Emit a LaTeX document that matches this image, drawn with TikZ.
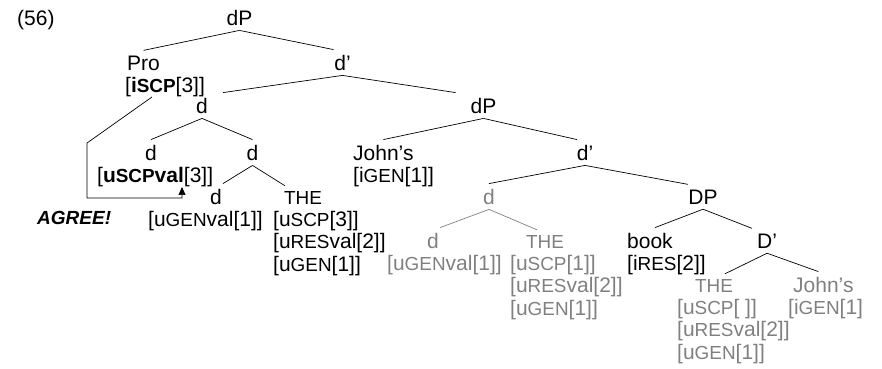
\documentclass[tikz,border=0pt]{standalone}
\usepackage{fontspec}
\setmainfont{Liberation Sans}
\usetikzlibrary{arrows.meta}
\definecolor{mygray}{RGB}{128,128,128}
\newcommand{\featsc}[1]{{\fontsize{18.9}{22.5}\selectfont #1}}
\tikzset{
  cat/.style={anchor=base, inner xsep=0pt, inner ysep=5pt,
    font=\fontsize{21}{22.5}\selectfont},
  feat/.style={anchor=north west, inner sep=0pt, align=left,
    font=\fontsize{21}{22.5}\selectfont},
  branch/.style={line width=0.7pt, color=black},
  graybranch/.style={line width=0.7pt, color=mygray},
  agreearrow/.style={-{Triangle[width=7pt,length=8pt]}, line width=0.7pt}
}

\begin{document}
\begin{tikzpicture}[x=1pt, y=-1pt]
  \useasboundingbox (0,0) rectangle (882,368);

  % Nodes
  \node[cat, anchor=base west] (num) at (17,25) {(56)};
  \node[cat] (dPtop) at (239.5,25) {dP};
  \node[cat, anchor=base west] (pro) at (127,70) {Pro};
  \node[feat] (iscp) at (125,77) {[\textbf{i\featsc{SCP}}[3]]};
  \node[cat] (dbar1) at (342.5,70) {d’};
  \node[cat] (d2) at (202,113) {d};
  \node[cat] (dPmid) at (483.5,113) {dP};
  \node[cat] (d3a) at (151,160) {d};
  \node[feat] (uscpval) at (97,167) {[\textbf{u\featsc{SCP}val}[3]]};
  \node[cat] (d3b) at (252.5,160) {d};
  \node[cat, anchor=base west] (johnsA) at (353,160) {John’s};
  \node[feat] (igenA) at (353,167) {[i\featsc{GEN}[1]]};
  \node[cat] (dbar2) at (585,160) {d’};
  \node[cat] (d4a) at (216,204) {d};
  \node[feat] (ugenvalA) at (148,211) {[u\featsc{GEN}val[1]]};
  \node[cat] (theA) at (303,204) {\featsc{THE}};
  \node[feat] (theAfeat) at (273,211) {[u\featsc{SCP}[3]]\\ {[}u\featsc{RES}val[2]]\\ {[}u\featsc{GEN}[1]]};
  \node[cat, anchor=base west, font=\fontsize{19}{22.5}\selectfont\bfseries\itshape] (agree) at (37,224) {AGREE!};

  \node[cat, mygray] (d4g) at (489,204) {d};
  \node[cat] (DP) at (703,204) {DP};
  \node[cat, mygray] (d5g) at (433,248) {d};
  \node[feat, mygray] (ugenvalB) at (387,255) {[u\featsc{GEN}val[1]]};
  \node[cat, mygray] (theB) at (545,248) {\featsc{THE}};
  \node[feat, mygray] (theBfeat) at (510,255) {[u\featsc{SCP}[1]]\\ {[}u\featsc{RES}val[2]]\\ {[}u\featsc{GEN}[1]]};
  \node[cat, anchor=base west] (book) at (627,248) {book};
  \node[feat] (ires) at (627,255) {[i\featsc{RES}[2]]};
  \node[cat] (Dbar) at (767,248) {D’};
  \node[cat, mygray] (theC) at (714,292) {\featsc{THE}};
  \node[feat, mygray] (theCfeat) at (677,299) {[u\featsc{SCP}[ ]]\\ {[}u\featsc{RES}val[2]]\\ {[}u\featsc{GEN}[1]]};
  \node[cat, anchor=base west, mygray] (johnsB) at (793,292) {John’s};
  \node[feat, mygray] (igenB) at (788,299) {[i\featsc{GEN}[1]};

  % Branches
  \draw[branch] (dPtop.south) -- (pro.north);
  \draw[branch] (dPtop.south) -- ([xshift=-9pt]dbar1.north);
  \draw[branch] (dbar1.south) -- ([xshift=21pt]d2.north);
  \draw[branch] (dbar1.south) -- ([xshift=-28pt]dPmid.north);
  \draw[branch] (d2.south) -- (d3a.north);
  \draw[branch] (d2.south) -- (d3b.north);
  \draw[branch] (dPmid.south) -- (johnsA.north);
  \draw[branch] (dPmid.south) -- ([xshift=-8pt]dbar2.north);
  \draw[branch] (d3b.south) -- ([xshift=7pt]d4a.north);
  \draw[branch] (d3b.south) -- ([xshift=-18pt]theA.north);
  \draw[branch] (dbar2.south) -- (d4g.north);
  \draw[branch] (dbar2.south) -- ([xshift=-15pt]DP.north);
  \draw[graybranch] (d4g.south) -- ([xshift=7pt]d5g.north);
  \draw[graybranch] (d4g.south) -- ([xshift=-8pt]theB.north);
  \draw[branch] (DP.south) -- ([xshift=5pt]book.north);
  \draw[branch] (DP.south) -- ([xshift=-15pt]Dbar.north);
  \draw[branch] (Dbar.south) -- ([xshift=11pt]theC.north);
  \draw[branch] (Dbar.south) -- ([xshift=-5pt]johnsB.north);

  % Agree arrow
  \draw[agreearrow] ([xshift=27pt]iscp.south west) -- (87,143) -- (87,198)
    -| ([xshift=85pt]uscpval.south west);
\end{tikzpicture}
\end{document}
